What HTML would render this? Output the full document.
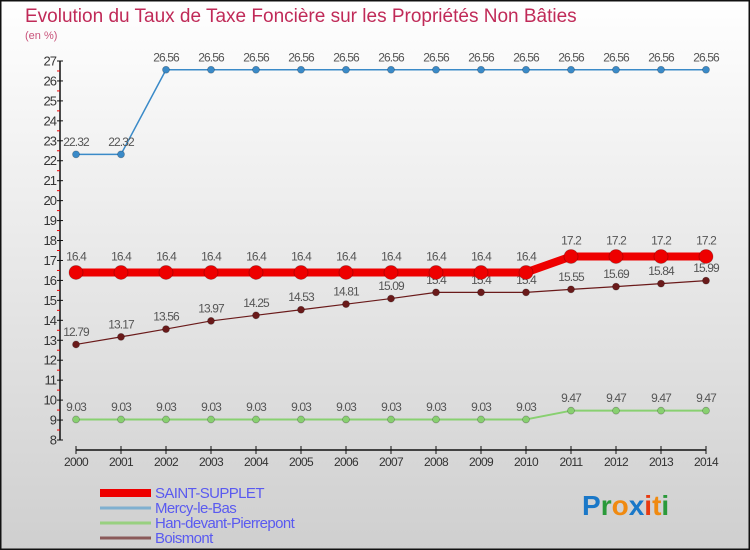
<!DOCTYPE html>
<html><head><meta charset="utf-8"><style>
body{margin:0;padding:0}
#c{width:750px;height:550px;position:relative;overflow:hidden;font-family:"Liberation Sans",sans-serif}
svg text{font-family:"Liberation Sans",sans-serif}
</style></head><body>
<div id="c">
<svg id="s" width="750" height="550" xmlns="http://www.w3.org/2000/svg">
<defs><linearGradient id="bg" x1="0" y1="0" x2="0" y2="1"><stop offset="0" stop-color="#ffffff"/><stop offset="1" stop-color="#cfcfcf"/></linearGradient></defs>
<rect x="0" y="0" width="750" height="550" fill="url(#bg)" stroke="#111" stroke-width="3"/>
<text x="25" y="22" font-size="19" fill="#c02a58">Evolution du Taux de Taxe Foncière sur les Propriétés Non Bâties</text>
<text x="25" y="39" font-size="11" fill="#c8527a">(en %)</text>
<g id="axes"></g>
<g id="series"></g>
<g id="legend"></g>
<g font-size="28" font-weight="bold">
<text x="582" y="515"><tspan fill="#1a78c8">P</tspan><tspan fill="#2a9a3a">r</tspan><tspan fill="#f08a10">o</tspan><tspan fill="#1a78c8">x</tspan><tspan fill="#e83a10">i</tspan><tspan fill="#f08a10">t</tspan><tspan fill="#2a9a3a">i</tspan></text>
</g>
</svg>
</div>
<script>
const years=["2000","2001","2002","2003","2004","2005","2006","2007","2008","2009","2010","2011","2012","2013","2014"];
const saintSupplet=[16.4,16.4,16.4,16.4,16.4,16.4,16.4,16.4,16.4,16.4,16.4,17.2,17.2,17.2,17.2];
const mercy=[22.32,22.32,26.56,26.56,26.56,26.56,26.56,26.56,26.56,26.56,26.56,26.56,26.56,26.56,26.56];
const han=[9.03,9.03,9.03,9.03,9.03,9.03,9.03,9.03,9.03,9.03,9.03,9.47,9.47,9.47,9.47];
const boismont=[12.79,13.17,13.56,13.97,14.25,14.53,14.81,15.09,15.4,15.4,15.4,15.55,15.69,15.84,15.99];
const yTicks=[8,9,10,11,12,13,14,15,16,17,18,19,20,21,22,23,24,25,26,27];
const seriesNames=["SAINT-SUPPLET","Mercy-le-Bas","Han-devant-Pierrepont","Boismont"];

const NS="http://www.w3.org/2000/svg";
function X(i){return 76+i*(630/(years.length-1));}
function Y(v){return 440-(v-8)*(379/19);}
function mk(tag,attrs,parent){const e=document.createElementNS(NS,tag);for(const k in attrs)e.setAttribute(k,attrs[k]);parent.appendChild(e);return e;}
const axes=document.getElementById('axes'),ser=document.getElementById('series'),leg=document.getElementById('legend');

let yl=mk('line',{x1:60,y1:Y(27),x2:60,y2:Y(8),stroke:'#111','stroke-width':1.5},axes);


yTicks.forEach((t,k)=>{
 mk('line',{x1:57,y1:Y(t),x2:63,y2:Y(t),stroke:'#111'},axes);
 if(k<yTicks.length-1) mk('line',{x1:57,y1:Y(t+0.5),x2:60,y2:Y(t+0.5),stroke:'#e00'},axes);
 const tx=mk('text',{x:56,y:Y(t)+4.5,'font-size':13,fill:'#333','text-anchor':'end','letter-spacing':'-1'},axes);
 tx.textContent=t;
 
 
});
let xl=mk('line',{x1:X(0),y1:450,x2:X(years.length-1),y2:450,stroke:'#111','stroke-width':1.5},axes);


years.forEach((yr,i)=>{
 mk('line',{x1:X(i),y1:446,x2:X(i),y2:454,stroke:'#111'},axes);
 const tx=mk('text',{x:X(i),y:466,'font-size':12,fill:'#333','text-anchor':'middle','letter-spacing':'-0.7'},axes);
 tx.textContent=yr;
 
 
});

function draw(vals,color,lw,r,name){
 const g=mk('g',{},ser);
 
 
 mk('polyline',{points:vals.map((v,i)=>X(i)+','+Y(v)).join(' '),fill:'none',stroke:color,'stroke-width':lw,'stroke-linejoin':'round'},g);
 vals.forEach((v,i)=>{
  const c=mk('circle',{cx:X(i),cy:Y(v),r:r,fill:color,stroke:'rgba(0,0,0,0.25)','stroke-width':0.8},g);
  
  
  const t=mk('text',{x:X(i),y:Y(v)-r-5,'font-size':12,fill:'#555','text-anchor':'middle','letter-spacing':'-0.9'},g);
  t.textContent=v;
  
  
 });
}
draw(mercy,'#3a8ac8',1.5,3.5,'mercy-le-bas');
draw(han,'#88d070',2,3.5,'han-devant-pierrepont');
draw(boismont,'#6a1a1a',1.2,3.5,'boismont');
draw(saintSupplet,'#ee0000',8,7,'saint-supplet');

const legColors=['#ee0000','#7fb0d0','#98d080','#8a5a5a'];
const legW=[8,3,3,3];
seriesNames.forEach((n,k)=>{
 const y=492+k*15;
 const g=mk('g',{},leg);
 
 
 mk('line',{x1:100,y1:y+1,x2:151,y2:y+1,stroke:legColors[k],'stroke-width':legW[k]},g);
 const t=mk('text',{x:155,y:y+6,'font-size':15,fill:'#5a5af0','letter-spacing':'-0.6'},g);
 t.textContent=n;
});
</script>
</body></html>
